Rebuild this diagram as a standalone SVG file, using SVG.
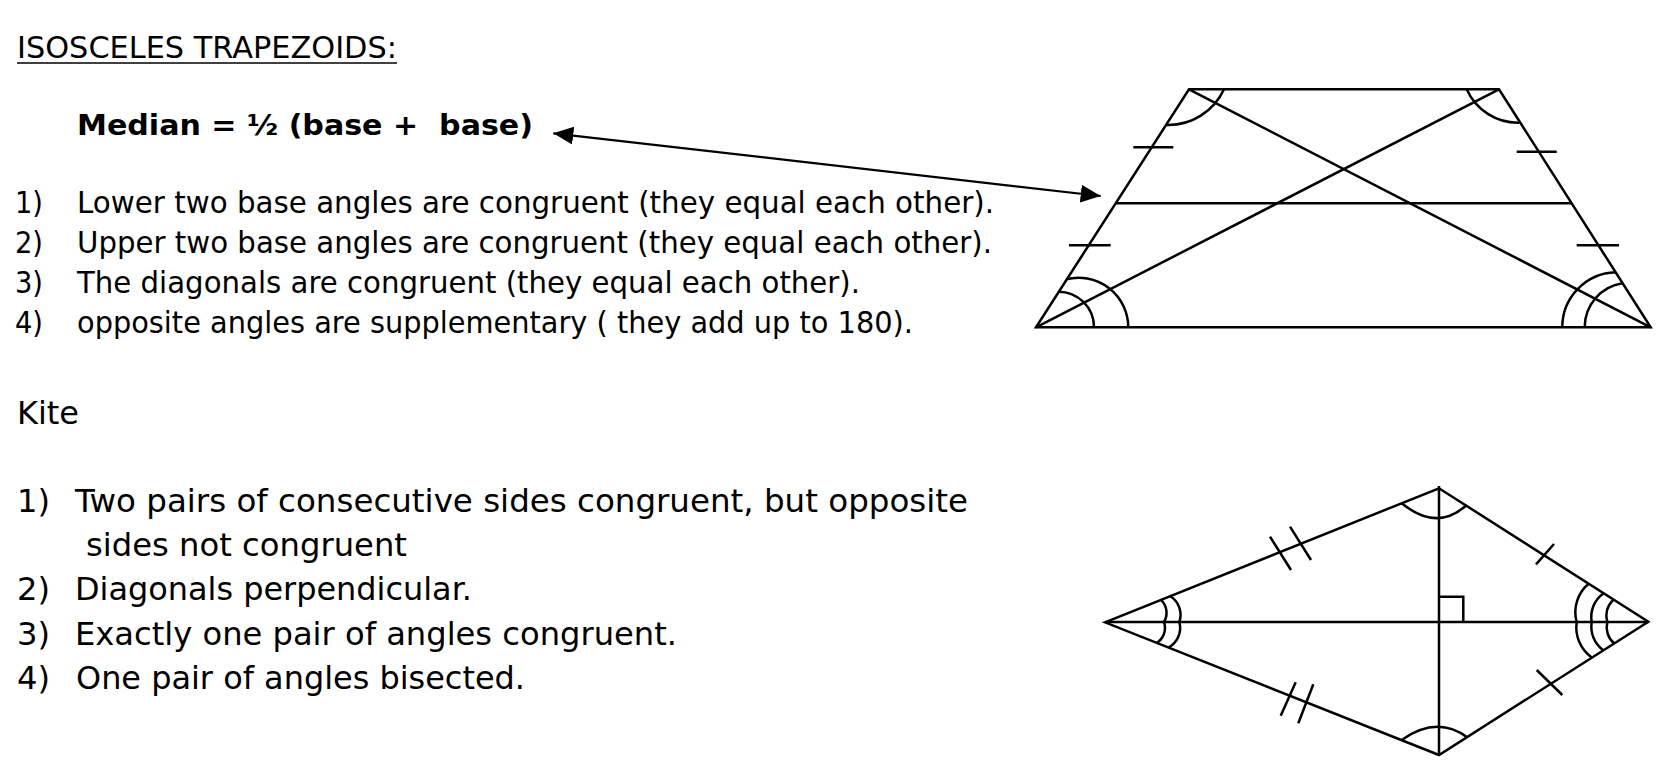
<svg xmlns="http://www.w3.org/2000/svg" width="1674" height="772" viewBox="0 0 1674 772">
<style>
.t{font-family:"DejaVu Sans","Liberation Sans",sans-serif;font-size:30.5px;fill:#000}
.k{font-family:"DejaVu Sans","Liberation Sans",sans-serif;font-size:32.5px;fill:#000}
.b{font-family:"DejaVu Sans","Liberation Sans",sans-serif;font-size:29px;font-weight:bold;fill:#000}
.s{fill:none;stroke:#000;stroke-width:2.5;stroke-linecap:butt;stroke-linejoin:miter}
.a{fill:none;stroke:#000;stroke-width:2.2}
</style>
<defs>
<marker id="ah" viewBox="0 0 20 18" refX="20" refY="9" markerWidth="20" markerHeight="18" markerUnits="userSpaceOnUse" orient="auto-start-reverse">
<path d="M0,0 L20,9 L0,18 Z" fill="#000"/>
</marker>
</defs>
<rect width="1674" height="772" fill="#fff"/>

<g id="title">
<text class="t" x="17" y="58" textLength="380" lengthAdjust="spacingAndGlyphs" font-size="29">ISOSCELES TRAPEZOIDS:</text>
<line x1="17" y1="63" x2="397" y2="63" stroke="#000" stroke-width="1.7"/>
</g>

<g id="median-formula">
<text class="b" x="77" y="135" textLength="456" lengthAdjust="spacingAndGlyphs" xml:space="preserve">Median = ½ (base +  base)</text>
</g>

<g id="trapezoid-list">
<text class="t" x="15" y="213" textLength="28" lengthAdjust="spacingAndGlyphs">1)</text>
<text class="t" x="77" y="213" textLength="917" lengthAdjust="spacingAndGlyphs">Lower two base angles are congruent (they equal each other).</text>
<text class="t" x="15" y="253" textLength="28" lengthAdjust="spacingAndGlyphs">2)</text>
<text class="t" x="77" y="253" textLength="915" lengthAdjust="spacingAndGlyphs">Upper two base angles are congruent (they equal each other).</text>
<text class="t" x="15" y="293" textLength="28" lengthAdjust="spacingAndGlyphs">3)</text>
<text class="t" x="77" y="293" textLength="783" lengthAdjust="spacingAndGlyphs">The diagonals are congruent (they equal each other).</text>
<text class="t" x="15" y="333" textLength="28" lengthAdjust="spacingAndGlyphs">4)</text>
<text class="t" x="77" y="333" textLength="836" lengthAdjust="spacingAndGlyphs">opposite angles are supplementary ( they add up to 180).</text>
</g>

<g id="kite-heading">
<text class="k" x="17" y="424" textLength="62" lengthAdjust="spacingAndGlyphs">Kite</text>
</g>

<g id="kite-list">
<text class="k" x="17" y="512" textLength="33" lengthAdjust="spacingAndGlyphs">1)</text>
<text class="k" x="75" y="512" textLength="893" lengthAdjust="spacingAndGlyphs">Two pairs of consecutive sides congruent, but opposite</text>
<text class="k" x="86" y="556" textLength="321" lengthAdjust="spacingAndGlyphs">sides not congruent</text>
<text class="k" x="17" y="600" textLength="33" lengthAdjust="spacingAndGlyphs">2)</text>
<text class="k" x="75" y="600" textLength="397" lengthAdjust="spacingAndGlyphs">Diagonals perpendicular.</text>
<text class="k" x="17" y="645" textLength="33" lengthAdjust="spacingAndGlyphs">3)</text>
<text class="k" x="75" y="645" textLength="602" lengthAdjust="spacingAndGlyphs">Exactly one pair of angles congruent.</text>
<text class="k" x="17" y="689" textLength="33" lengthAdjust="spacingAndGlyphs">4)</text>
<text class="k" x="76" y="689" textLength="449" lengthAdjust="spacingAndGlyphs">One pair of angles bisected.</text>
</g>

<g id="trapezoid">
<polygon class="s" points="1189,89.3 1499,89.3 1650.7,327.3 1036,327.3"/>
<line class="s" x1="1189" y1="89.3" x2="1650.7" y2="327.3"/>
<line class="s" x1="1499" y1="89.3" x2="1036" y2="327.3"/>
<line class="s" x1="1115.5" y1="203.3" x2="1571" y2="203.3"/>
<line class="s" x1="1133.3" y1="147.3" x2="1173.3" y2="147.3"/>
<line class="s" x1="1069" y1="245.3" x2="1110.7" y2="245.3"/>
<line class="s" x1="1516.7" y1="151.7" x2="1556.7" y2="151.7"/>
<line class="s" x1="1576.7" y1="245.3" x2="1619" y2="245.3"/>
<path class="s" d="M1224,89.3 A61.3,61.3 0 0 1 1167,125"/>
<path class="s" d="M1466.7,89.3 A56.1,56.1 0 0 0 1519,122.7"/>
<path class="s" d="M1094,327.3 A35.6,35.6 0 0 0 1058,291.7"/>
<path class="s" d="M1128.3,327.3 A49.85,49.85 0 0 0 1066,279.3"/>
<path class="s" d="M1584.7,327.3 A44.5,44.5 0 0 1 1622.5,283.3"/>
<path class="s" d="M1562.3,327.3 A55,55 0 0 1 1615.7,272.3"/>
</g>

<g id="kite">
<polygon class="s" points="1105,622.3 1439,488.3 1648.3,621.7 1439,755"/>
<line class="s" x1="1105" y1="622" x2="1648.3" y2="622"/>
<line class="s" x1="1439" y1="486" x2="1439" y2="755"/>
<polyline class="s" points="1439,596.7 1463.3,596.7 1463.3,622"/>
<line class="s" x1="1270" y1="536.7" x2="1291" y2="570"/>
<line class="s" x1="1290" y1="526.7" x2="1311" y2="560"/>
<line class="s" x1="1295.7" y1="682.3" x2="1280.7" y2="715.7"/>
<line class="s" x1="1313.3" y1="684.3" x2="1298.3" y2="723.3"/>
<line class="s" x1="1536" y1="564.3" x2="1554" y2="544"/>
<line class="s" x1="1536.7" y1="670" x2="1562.3" y2="695"/>
<path class="s" d="M1401.7,503.3 Q1437,532 1466.7,505"/>
<path class="s" d="M1401.7,740 Q1437,715 1467.5,737.5"/>
<path class="s" d="M1161,599.8 A18,18 0 0 1 1164,622 A18,18 0 0 1 1156.7,643"/>
<path class="s" d="M1170,596 A22,22 0 0 1 1179.3,622 A22,22 0 0 1 1168.3,647.5"/>
<path class="s" d="M1588.3,584 A37,37 0 0 0 1576.7,622 A37,37 0 0 0 1591.7,657.5"/>
<path class="s" d="M1603.3,593.5 A29,29 0 0 0 1591.7,622 A29,29 0 0 0 1603.3,650.2"/>
<path class="s" d="M1613.3,599.8 A21.4,21.4 0 0 0 1607.3,622 A21.4,21.4 0 0 0 1614,643.3"/>
</g>

<g id="connectors">
<line class="a" x1="553.3" y1="133.3" x2="1100.7" y2="196" marker-start="url(#ah)" marker-end="url(#ah)"/>
</g>
</svg>
